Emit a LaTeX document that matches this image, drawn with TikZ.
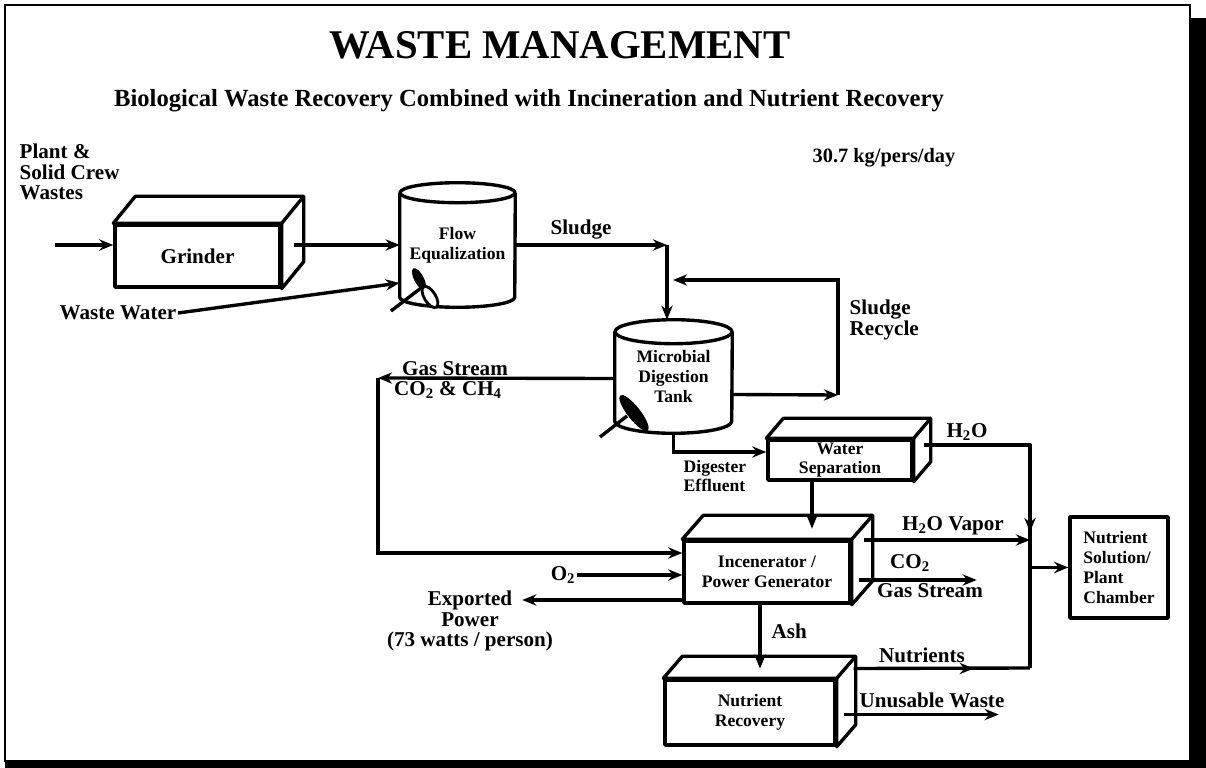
\documentclass[tikz,border=0pt]{standalone}
\usepackage{fontspec}
\setmainfont{Liberation Serif}
\usetikzlibrary{positioning,calc,arrows.meta}

% top and side faces of a box unit
\newcommand{\crateside}[3]{%
  \draw[unit, fill=white] (#1.north west) -- ++(#2,#3) -- ($(#1.north east)+(#2,#3)$)
    -- ($(#1.south east)+(#2,#3)$) -- (#1.south east) -- (#1.north east) -- cycle;
  \draw[unit] (#1.north east) -- ++(#2,#3);}
% outline of a tank unit
\newcommand{\tankwall}[3]{%
  \draw[unit] ($(#1.north west)+(0,-#3)$) -- ($(#1.south west)+(0,#3)$)
    arc[start angle=180, end angle=360, x radius=#2, y radius=#3]
    -- ($(#1.north east)+(0,-#3)$);
  \draw[unit] ($(#1.north)+(0,-#3)$) ellipse [x radius=#2, y radius=#3];}

\begin{document}
\begin{tikzpicture}[x=0.025cm, y=-0.025cm,
  unit/.style={line width=2.4pt, line join=round},
  arr/.style={line width=2.4pt, -{Stealth[length=10pt, width=8pt]}},
  crate/.style={draw, unit, fill=white, inner sep=0pt, align=center},
  tank/.style={inner sep=0pt, align=center},
  big/.style={font=\fontsize{15}{14.5}\selectfont\bfseries, inner sep=1pt, align=center},
  small/.style={font=\fontsize{12.5}{14}\selectfont\bfseries, inner sep=1pt, align=center}]

\useasboundingbox (0,0) rectangle (1206,768);
% frame with shadow
\draw[line width=1pt] (5,5) rectangle (1190,761);
\fill (1190,18) rectangle (1206,768);
\fill (5,761) rectangle (1206,768);

% headings
\node[font=\fontsize{29}{30}\selectfont\bfseries] (title) at (560,45) {WASTE MANAGEMENT};
\node[font=\fontsize{17.5}{19}\selectfont\bfseries] (subtitle) at (529,101) {Biological Waste Recovery Combined with Incineration and Nutrient Recovery};
\node[big, font=\fontsize{14.5}{16}\selectfont\bfseries] (rate) at (884,158) {30.7 kg/pers/day};

% process units
\node[crate, big, minimum width=4.125cm, minimum height=1.55cm] (grinder) at (197.5,256) {Grinder};
\crateside{grinder}{22}{-27}
\node[tank, small, minimum width=2.875cm, minimum height=3.1cm] (flow) at (457.5,245) {Flow\\Equalization};
\tankwall{flow}{1.4375cm}{0.25cm}
\node[tank, small, minimum width=2.925cm, minimum height=2.825cm] (digest) at (673.5,376.5) {Microbial\\Digestion\\Tank};
\tankwall{digest}{1.4625cm}{0.3cm}
\node[crate, small, minimum width=3.6cm, minimum height=1cm] (wsep) at (840,460) {Water\\Separation};
\crateside{wsep}{17}{-20}
\node[crate, small, minimum width=4.15cm, minimum height=1.55cm] (incin) at (767,572) {Incenerator /\\Power Generator};
\crateside{incin}{21}{-24}
\node[crate, small, minimum width=4.25cm, minimum height=1.625cm] (nrec) at (750,712.5) {Nutrient\\Recovery};
\crateside{nrec}{19}{-22}
\node[crate, small, align=left, minimum width=2.45cm, minimum height=2.525cm] (nsol) at (1119,567.5) {Nutrient\\Solution/\\Plant\\Chamber};

% mixers
\draw[unit] (391,311) -- (421,288);
\fill[rotate around={-62:(419,279)}] (419,279) ellipse [x radius=0.3cm, y radius=0.12cm];
\draw[line width=2pt, fill=white, rotate around={-58:(430,297)}] (430,297) ellipse [x radius=0.3cm, y radius=0.14cm];
\draw[unit] (600,437) -- (627,416);
\fill[rotate around={-52:(634,413)}] (634,413) ellipse [x radius=0.56cm, y radius=0.16cm];

% labels
\node[big, align=left, anchor=west] (plant) at (18,172) {Plant \&\\Solid Crew\\Wastes};
\node[big] (water) at (118,313) {Waste Water};
\node[big] (sludge) at (581,230) {Sludge};
\node[big, align=left, anchor=west] (recycle) at (848,320) {Sludge\\Recycle};
\node[big] (gastop) at (455,369) {Gas Stream};
\node[big] (gasmix) at (448,390) {CO\textsubscript{2} \& CH\textsubscript{4}};
\node[small, align=left, anchor=west] (effluent) at (682,476) {Digester\\Effluent};
\node[big] (water2) at (967,432) {H\textsubscript{2}O};
\node[big] (vapor) at (953,526) {H\textsubscript{2}O Vapor};
\node[big] (co2) at (910,563) {CO\textsubscript{2}};
\node[big] (gasout) at (930,591) {Gas Stream};
\node[big] (o2) at (563,575) {O\textsubscript{2}};
\node[big] (export) at (470,621) {Exported\\Power\\(73 watts / person)};
\node[big, anchor=west] (ash) at (770,631) {Ash};
\node[big] (nutr) at (922,655) {Nutrients};
\node[big] (waste) at (932,700) {Unusable Waste};

% feed lines
\coordinate (feed) at (55,245);
\draw[arr] (feed) -- (feed -| grinder.west);
\path ($(grinder.east)+(12,-11)$) coordinate (gout);
\draw[arr] (gout) -- (gout -| flow.west);
\draw[arr] (water.east) -- ($(flow.west)+(0,38)$);

% sludge and recycle
\coordinate (sbend) at (667,245);
\draw[arr] (flow.east) -- (sbend);
\draw[arr] (sbend) -- (sbend |- digest.north);
\path ($(digest.east)+(0,18)$) coordinate (rout);
\coordinate (rbend) at (838,395);
\draw[arr] (rout) -- (rbend);
\draw[arr] (rbend) -- (838,280) -- (673,280);

% gas stream
\path ($(digest.west)+(0,2)$) coordinate (gas);
\coordinate (gbend) at (378,378);
\draw[arr] (gas) -- (gbend);
\draw[arr] (gbend) |- ($(incin.west)+(0,-19)$);

% effluent and water
\draw[arr] (digest.south) |- ($(wsep.west)+(0,-8)$);
\path ($(wsep.south)+(-28,0)$) coordinate (wdown);
\draw[arr] (wdown) -- ++(0,47);
\path ($(wsep.east)+(10,-15)$) coordinate (wout);
\coordinate (hbend) at (1030,445);
\coordinate (nbend) at (1030,668);
\draw[unit] (wout) -- (hbend) -- (nbend);
\draw[arr] (hbend) -- ++(0,87);

% incinerator outputs
\path ($(incin.east)+(12,-32)$) coordinate (vap);
\draw[arr] (vap) -- (vap -| hbend);
\path ($(incin.east)+(7,8)$) coordinate (cout);
\draw[arr] (cout) -- ++(118,0);
\draw[arr] (nsol.west -| hbend) -- (nsol.west);
\draw[arr] ($(incin.south)+(-7,0)$) -- ++(0,64);
\draw[arr] (o2.east) -- (o2.east -| incin.west);
\draw[arr] ($(incin.west)+(0,28)$) -- ++(-160,0);

% nutrient recovery outputs
\path ($(nrec.east)+(17,-44)$) coordinate (nout);
\draw[unit] (nout) -- (nbend);
\draw[arr] (nout) -- ++(120,0);
\path ($(nrec.east)+(7,2)$) coordinate (uout);
\draw[arr] (uout) -- ++(155,0);
\end{tikzpicture}
\end{document}
